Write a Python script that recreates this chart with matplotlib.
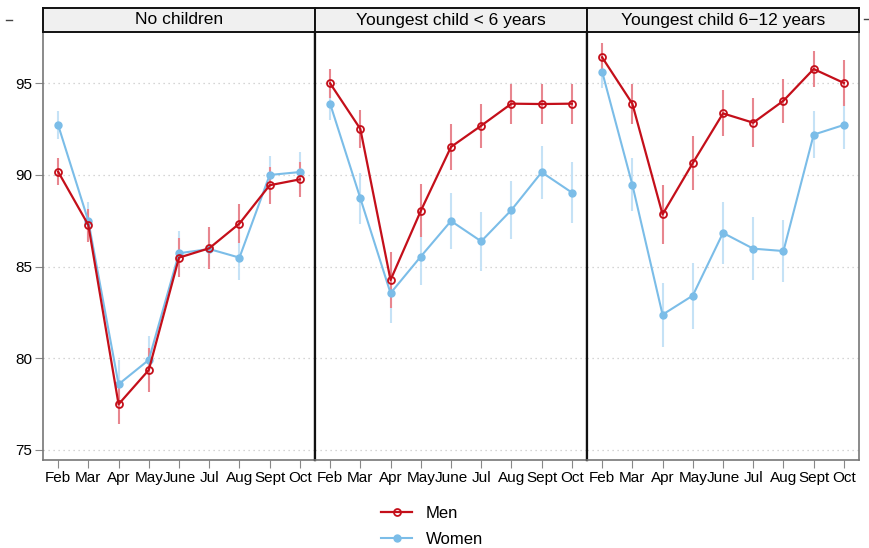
import matplotlib
matplotlib.use("Agg")
import matplotlib.pyplot as plt
from matplotlib.lines import Line2D

plt.rcParams['font.family'] = ['Liberation Sans', 'DejaVu Sans']

months = ["Feb", "Mar", "Apr", "May", "June", "Jul", "Aug", "Sept", "Oct"]
panels = ["No children", "Youngest child < 6 years", "Youngest child 6\u221212 years"]

men_none = [90.18, 87.27, 77.49, 79.36, 85.49, 86.0, 87.35, 89.44, 89.76]
women_none = [92.73, 87.49, 78.58, 79.91, 85.73, 85.96, 85.49, 90.0, 90.16]
men_none_ci = [0.75, 0.9, 1.1, 1.2, 1.05, 1.15, 1.05, 1.0, 0.95]
women_none_ci = [0.75, 1.05, 1.3, 1.3, 1.2, 1.1, 1.2, 1.05, 1.1]

men_u6 = [95.0, 92.51, 84.27, 88.04, 91.53, 92.69, 93.89, 93.87, 93.89]
women_u6 = [93.89, 88.73, 83.55, 85.55, 87.49, 86.38, 88.09, 90.15, 89.04]
men_u6_ci = [0.8, 1.05, 1.55, 1.45, 1.25, 1.2, 1.1, 1.1, 1.1]
women_u6_ci = [0.9, 1.4, 1.6, 1.55, 1.55, 1.6, 1.6, 1.45, 1.65]

men_612 = [96.42, 93.89, 87.85, 90.65, 93.36, 92.85, 94.05, 95.78, 95.02]
women_612 = [95.64, 89.47, 82.38, 83.42, 86.84, 85.98, 85.85, 92.2, 92.73]
men_612_ci = [0.8, 1.1, 1.6, 1.45, 1.25, 1.35, 1.2, 1.0, 1.25]
women_612_ci = [0.9, 1.43, 1.75, 1.8, 1.7, 1.7, 1.7, 1.3, 1.3]

yticks = [75, 80, 85, 90, 95]

men_all = [men_none, men_u6, men_612]
women_all = [women_none, women_u6, women_612]
men_ci_all = [men_none_ci, men_u6_ci, men_612_ci]
women_ci_all = [women_none_ci, women_u6_ci, women_612_ci]

RED = "#c40f1a"
BLUE = "#7bbde8"
RED_CI = "#e8868f"
BLUE_CI = "#c5e2f6"

W, H = 869, 548
fig = plt.figure(figsize=(W / 100, H / 100), dpi=100)

left_px, right_px = 43, 859
top_px, bot_px = 32, 460
strip_top = 8
pw = (right_px - left_px) / 3

x = list(range(len(months)))
for i in range(3):
    l = (left_px + i * pw) / W
    ax = fig.add_axes([l, 1 - bot_px / H, pw / W, (bot_px - top_px) / H])
    ax.set_xlim(-0.5, 8.5)
    ax.set_ylim(74.45, 97.8)
    for yv in yticks:
        ax.axhline(yv, color="#c8c8c8", lw=0.9, ls=(0, (1, 3)), zorder=0)
    m = men_all[i]; w = women_all[i]
    mc = men_ci_all[i]; wc = women_ci_all[i]
    ax.vlines(x, [a - b for a, b in zip(w, wc)], [a + b for a, b in zip(w, wc)],
              color=BLUE_CI, lw=1.5, zorder=1)
    ax.vlines(x, [a - b for a, b in zip(m, mc)], [a + b for a, b in zip(m, mc)],
              color=RED_CI, lw=1.5, zorder=1)
    ax.plot(x, w, color=BLUE, lw=1.5, marker="o", ms=5, mfc=BLUE, mec=BLUE, zorder=3)
    ax.plot(x, m, color=RED, lw=1.6, marker="o", ms=5, mfc="none", mec=RED, mew=1.3, zorder=4)
    ax.set_xticks(x)
    ax.set_xticklabels(months, fontsize=11)
    ax.tick_params(axis="x", length=6, color="#888888", pad=2)
    ax.set_yticks(yticks)
    if i == 0:
        ax.set_yticklabels([str(v) for v in yticks], fontsize=11)
        ax.tick_params(axis="y", length=6, color="#888888", pad=2)
    else:
        ax.tick_params(axis="y", length=0, labelleft=False)
    ax.spines["top"].set_visible(False)
    ax.spines["bottom"].set_color("#777777")
    ax.spines["bottom"].set_linewidth(1.2)
    ax.spines["left"].set_color("#777777" if i == 0 else "#111111")
    ax.spines["left"].set_linewidth(1.2 if i == 0 else 1.6)
    ax.spines["right"].set_color("#777777" if i == 2 else "#111111")
    ax.spines["right"].set_linewidth(1.2 if i == 2 else 1.6)

    sax = fig.add_axes([l, 1 - top_px / H, pw / W, (top_px - strip_top) / H])
    sax.set_xticks([]); sax.set_yticks([])
    sax.set_facecolor("#f0f0f0")
    for s in sax.spines.values():
        s.set_color("#111111")
        s.set_linewidth(1.4)
    sax.text(0.5, 0.5, panels[i], ha="center", va="center", fontsize=12.5, transform=sax.transAxes)

fig.add_artist(Line2D([6 / W, 12 / W], [1 - 20 / H, 1 - 20 / H], color="#444444", lw=1))
fig.add_artist(Line2D([864 / W, 869 / W], [1 - 19 / H, 1 - 19 / H], color="#444444", lw=1))

handles = [Line2D([0], [0], color=RED, lw=1.6, marker="o", ms=5, mfc="none", mec=RED, mew=1.3),
           Line2D([0], [0], color=BLUE, lw=1.5, marker="o", ms=5, mfc=BLUE, mec=BLUE)]
fig.legend(handles, ["Men", "Women"], loc="center", bbox_to_anchor=(0.497, 1 - 526.5 / H),
           frameon=False, fontsize=12, handlelength=1.9, labelspacing=0.65, handletextpad=0.8)

fig.savefig("out.png", dpi=100)
